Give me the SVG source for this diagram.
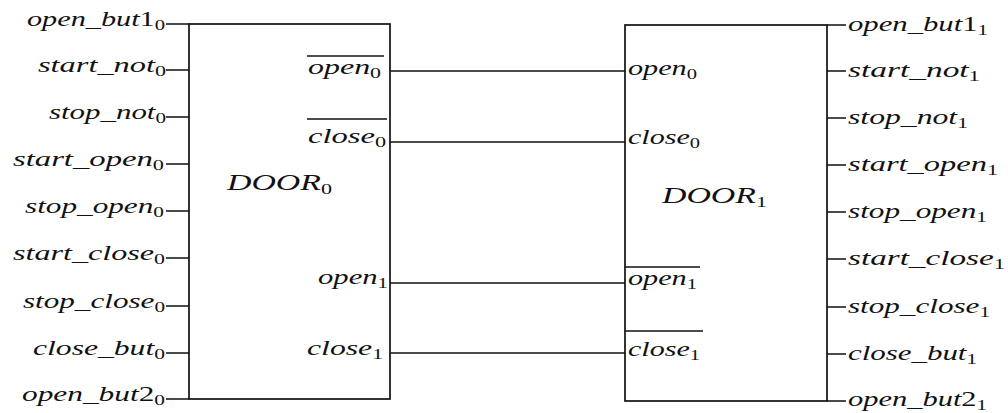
<svg xmlns="http://www.w3.org/2000/svg" width="1008" height="413" viewBox="0 0 1008 413">
  <style>
    .box { fill: none; stroke: #111; stroke-width: 1.7; }
    .wire { fill: none; stroke: #111; stroke-width: 1.7; }
    .bar { fill: none; stroke: #111; stroke-width: 1.5; }
    .lbl { font-family: "Liberation Serif", "Times New Roman", serif; font-style: italic; font-size: 22px; fill: #111; }
    .big { font-size: 23px; }
    .sub { font-style: normal; font-size: 15px; }
    .num { font-style: normal; }
  </style>
  <rect width="1008" height="413" fill="#fff"/>

  <!-- DOOR 0 -->
  <g id="door0">
    <rect class="box" x="189" y="24" width="201" height="375"/>
    <!-- input pins -->
    <path class="wire" d="M166,24H189 M166,70H189 M166,117H189 M166,164H189 M166,211H189 M166,258H189 M166,306H189 M166,353H189 M166,399H189"/>
    <text class="lbl" x="27" y="26" textLength="138" lengthAdjust="spacingAndGlyphs">open_but<tspan class="num">1</tspan><tspan class="sub" dy="4">0</tspan></text>
    <text class="lbl" x="38" y="72" textLength="128" lengthAdjust="spacingAndGlyphs">start_not<tspan class="sub" dy="4">0</tspan></text>
    <text class="lbl" x="49" y="119" textLength="117" lengthAdjust="spacingAndGlyphs">stop_not<tspan class="sub" dy="4">0</tspan></text>
    <text class="lbl" x="13" y="166" textLength="151" lengthAdjust="spacingAndGlyphs">start_open<tspan class="sub" dy="4">0</tspan></text>
    <text class="lbl" x="25" y="213" textLength="139" lengthAdjust="spacingAndGlyphs">stop_open<tspan class="sub" dy="4">0</tspan></text>
    <text class="lbl" x="13" y="260" textLength="152" lengthAdjust="spacingAndGlyphs">start_close<tspan class="sub" dy="4">0</tspan></text>
    <text class="lbl" x="23" y="308" textLength="142" lengthAdjust="spacingAndGlyphs">stop_close<tspan class="sub" dy="4">0</tspan></text>
    <text class="lbl" x="33" y="355" textLength="132" lengthAdjust="spacingAndGlyphs">close_but<tspan class="sub" dy="4">0</tspan></text>
    <text class="lbl" x="22" y="401" textLength="143" lengthAdjust="spacingAndGlyphs">open_but<tspan class="num">2</tspan><tspan class="sub" dy="4">0</tspan></text>
    <!-- name -->
    <text class="lbl big" x="227" y="190" textLength="105" lengthAdjust="spacingAndGlyphs">DOOR<tspan class="sub" dy="4">0</tspan></text>
    <!-- output ports -->
    <line class="bar" x1="307" y1="56" x2="384" y2="56"/>
    <text class="lbl" x="308" y="74" textLength="73" lengthAdjust="spacingAndGlyphs">open<tspan class="sub" dy="4">0</tspan></text>
    <line class="bar" x1="307" y1="119" x2="387" y2="119"/>
    <text class="lbl" x="308" y="143" textLength="78" lengthAdjust="spacingAndGlyphs">close<tspan class="sub" dy="4">0</tspan></text>
    <text class="lbl" x="318" y="284" textLength="70" lengthAdjust="spacingAndGlyphs">open<tspan class="sub" dy="4">1</tspan></text>
    <text class="lbl" x="307" y="355" textLength="76" lengthAdjust="spacingAndGlyphs">close<tspan class="sub" dy="4">1</tspan></text>
  </g>

  <!-- DOOR 1 -->
  <g id="door1">
    <rect class="box" x="625" y="25" width="202" height="376"/>
    <!-- output pins -->
    <path class="wire" d="M827,25H846 M827,71H846 M827,118H846 M827,165H846 M827,212H846 M827,259H846 M827,307H846 M827,354H846 M827,401H846"/>
    <text class="lbl" x="848" y="31" textLength="140" lengthAdjust="spacingAndGlyphs">open_but<tspan class="num">1</tspan><tspan class="sub" dy="4">1</tspan></text>
    <text class="lbl" x="848" y="77" textLength="132" lengthAdjust="spacingAndGlyphs">start_not<tspan class="sub" dy="4">1</tspan></text>
    <text class="lbl" x="848" y="124" textLength="120" lengthAdjust="spacingAndGlyphs">stop_not<tspan class="sub" dy="4">1</tspan></text>
    <text class="lbl" x="848" y="171" textLength="150" lengthAdjust="spacingAndGlyphs">start_open<tspan class="sub" dy="4">1</tspan></text>
    <text class="lbl" x="848" y="218" textLength="139" lengthAdjust="spacingAndGlyphs">stop_open<tspan class="sub" dy="4">1</tspan></text>
    <text class="lbl" x="848" y="265" textLength="157" lengthAdjust="spacingAndGlyphs">start_close<tspan class="sub" dy="4">1</tspan></text>
    <text class="lbl" x="848" y="313" textLength="142" lengthAdjust="spacingAndGlyphs">stop_close<tspan class="sub" dy="4">1</tspan></text>
    <text class="lbl" x="848" y="360" textLength="129" lengthAdjust="spacingAndGlyphs">close_but<tspan class="sub" dy="4">1</tspan></text>
    <text class="lbl" x="848" y="406" textLength="139" lengthAdjust="spacingAndGlyphs">open_but<tspan class="num">2</tspan><tspan class="sub" dy="4">1</tspan></text>
    <!-- name -->
    <text class="lbl big" x="662" y="203" textLength="105" lengthAdjust="spacingAndGlyphs">DOOR<tspan class="sub" dy="4">1</tspan></text>
    <!-- input ports -->
    <text class="lbl" x="628" y="75" textLength="69" lengthAdjust="spacingAndGlyphs">open<tspan class="sub" dy="4">0</tspan></text>
    <text class="lbl" x="628" y="144" textLength="72" lengthAdjust="spacingAndGlyphs">close<tspan class="sub" dy="4">0</tspan></text>
    <line class="bar" x1="625" y1="267" x2="700" y2="267"/>
    <text class="lbl" x="628" y="285" textLength="69" lengthAdjust="spacingAndGlyphs">open<tspan class="sub" dy="4">1</tspan></text>
    <line class="bar" x1="625" y1="331" x2="703" y2="331"/>
    <text class="lbl" x="628" y="356" textLength="72" lengthAdjust="spacingAndGlyphs">close<tspan class="sub" dy="4">1</tspan></text>
  </g>

  <!-- links between the two doors -->
  <g id="connectors">
    <line class="wire" x1="390" y1="71" x2="625" y2="71"/>
    <line class="wire" x1="390" y1="142" x2="625" y2="142"/>
    <line class="wire" x1="390" y1="283" x2="625" y2="283"/>
    <line class="wire" x1="390" y1="353" x2="625" y2="353"/>
  </g>
</svg>
